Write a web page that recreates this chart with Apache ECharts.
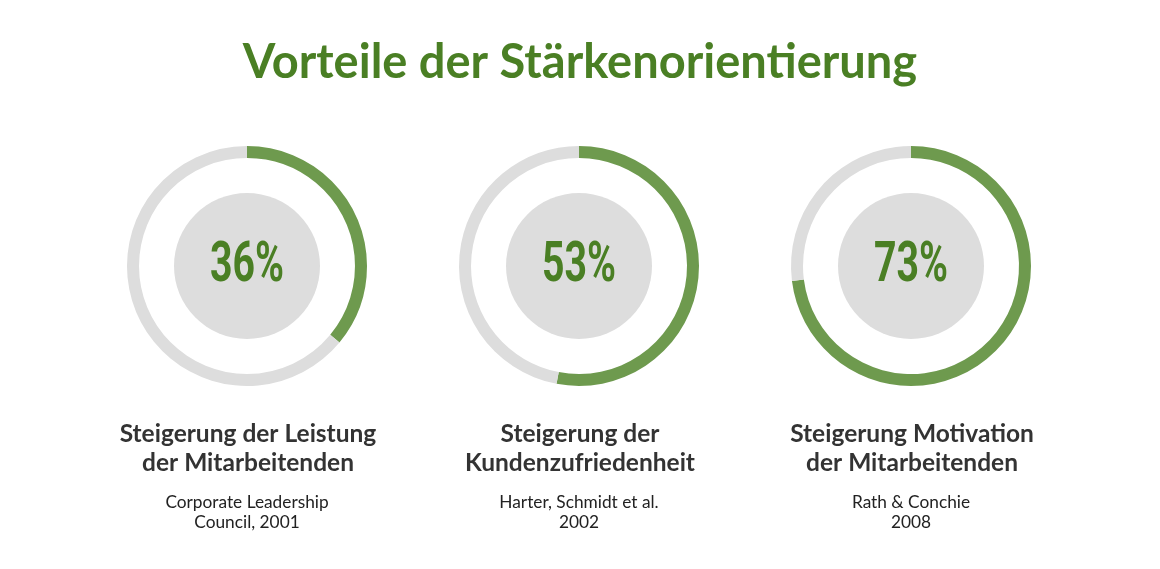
<!DOCTYPE html>
<html lang="de" style="height: 100%">
<head>
    <meta charset="utf-8">
</head>
<body style="height: 100%; margin: 0; overflow: hidden; background: #fff">
<div id="container" style="height: 569px; width: 1160px"></div>

<script type="text/javascript" src="https://cdn.jsdelivr.net/npm/echarts@6/dist/echarts.min.js"></script>

<script type="text/javascript">
    // Werte aus der Grafik
    var percents = [36, 53, 73];
    var headlines = [
      'Steigerung der Leistung\nder Mitarbeitenden',
      'Steigerung der\nKundenzufriedenheit',
      'Steigerung Motivation\nder Mitarbeitenden'
    ];
    var sources = [
      'Corporate Leadership\nCouncil, 2001',
      'Harter, Schmidt et al.\n2002',
      'Rath & Conchie\n2008'
    ];

    var centersX = [247, 579, 911];
    var centerY = 266;

    var dom = document.getElementById('container');
    var myChart = echarts.init(dom, null, { renderer: 'canvas' });

    var series = [];
    var graphics = [];
    var titles = [{
      text: 'Vorteile der Stärkenorientierung',
      left: 'center',
      top: 34,
      textStyle: { fontFamily: 'Lato', fontWeight: 'bold', fontSize: 47, color: '#4a7f24' }
    }];

    percents.forEach(function (p, i) {
      // Ring
      series.push({
        type: 'pie',
        center: [centersX[i], centerY],
        radius: [108, 120],
        startAngle: 90,
        clockwise: true,
        silent: true,
        label: { show: false },
        labelLine: { show: false },
        itemStyle: { borderWidth: 0 },
        data: [
          { value: p, name: 'wert', itemStyle: { color: '#6e9a4e' } },
          { value: 100 - p, name: 'rest', itemStyle: { color: '#dddddd' } }
        ]
      });
      // grauer Kreis in der Mitte
      series.push({
        type: 'pie',
        center: [centersX[i], centerY],
        radius: [0, 73],
        silent: true,
        label: { show: false },
        labelLine: { show: false },
        itemStyle: { color: '#dddddd' },
        data: [{ value: 1, name: 'mitte' }]
      });
      // Prozentwert, schmal gestaucht wie in der Vorlage
      graphics.push({
        type: 'text',
        x: centersX[i],
        y: centerY + 1,
        scaleX: 0.7,
        z: 100,
        silent: true,
        style: {
          text: p + '%',
          font: 'bold 56px Roboto',
          fill: '#4a7f24',
          textAlign: 'center',
          textVerticalAlign: 'middle'
        }
      });
      titles.push({
        text: headlines[i],
        left: centersX[i] - 4,
        top: 415,
        textAlign: 'center',
        textStyle: { fontFamily: 'Lato', fontWeight: 'bold', fontSize: 24.5, lineHeight: 29, color: '#333333' }
      });
      titles.push({
        text: sources[i],
        left: centersX[i] - 5,
        top: 487,
        textAlign: 'center',
        textStyle: { fontFamily: 'Lato', fontWeight: 'normal', fontSize: 17.3, lineHeight: 20, color: '#222222' }
      });
    });

    var option = {
      animation: false,
      title: titles,
      graphic: graphics,
      series: series
    };

    myChart.setOption(option);
    window.addEventListener('resize', myChart.resize);
</script>
</body>
</html>
